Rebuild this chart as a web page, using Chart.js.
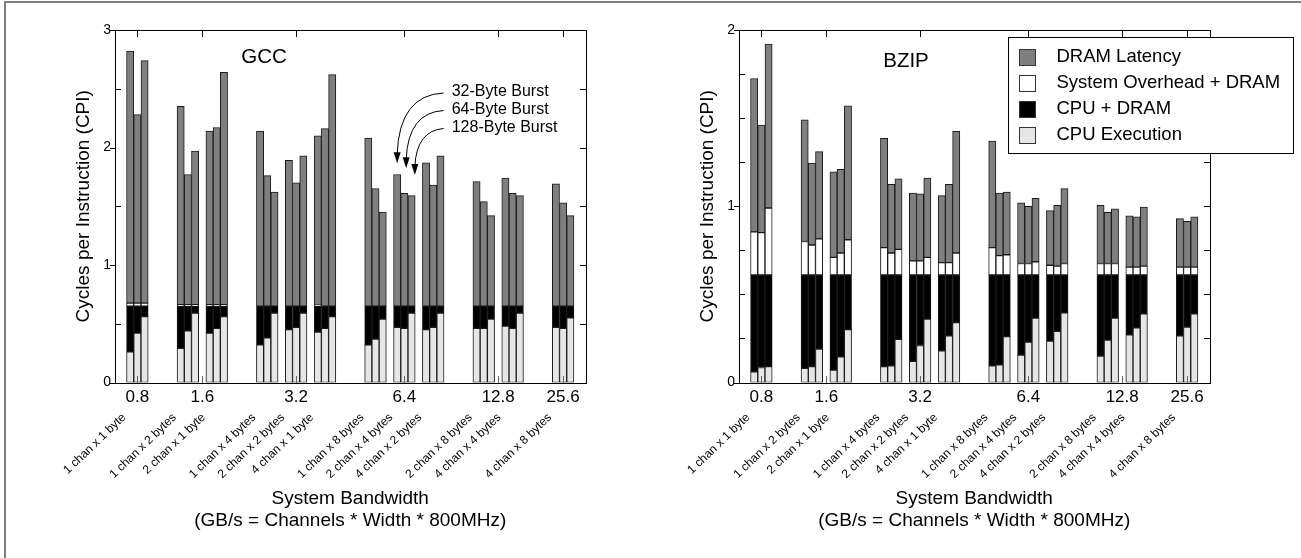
<!DOCTYPE html>
<html>
<head>
<meta charset="utf-8">
<title>CPI vs System Bandwidth</title>
<script src="https://cdn.jsdelivr.net/npm/chart.js@4.4.0/dist/chart.umd.min.js"></script>
<style>
  html, body { margin: 0; padding: 0; background: #fff; }
  body { width: 1301px; height: 558px; position: relative; overflow: hidden; }
  .frame { position: absolute; left: 4px; top: 1px; right: 0; bottom: 0;
           border-left: 2px solid #7f7f7f; border-top: 2px solid #7f7f7f; }
  canvas { position: absolute; top: 0; }
  #gcc { left: 0; }
  #bzip { left: 624px; }
</style>
</head>
<body>
<div class="frame"></div>
<canvas id="gcc" width="624" height="558"></canvas>
<canvas id="bzip" width="677" height="558"></canvas>
<script>
// ---- data ----
const configs = [
  '1 chan x 1 byte', '1 chan x 2 bytes', '2 chan x 1 byte',
  '1 chan x 4 bytes', '2 chan x 2 bytes', '4 chan x 1 byte',
  '1 chan x 8 bytes', '2 chan x 4 bytes', '4 chan x 2 bytes',
  '2 chan x 8 bytes', '4 chan x 4 bytes', '4 chan x 8 bytes'
];
const bandwidthLabels = ['0.8', '1.6', '3.2', '6.4', '12.8', '25.6'];
const configBandwidth = [0, 1, 1, 2, 2, 2, 3, 3, 3, 4, 4, 5];
const burstLabels = ['32-Byte Burst', '64-Byte Burst', '128-Byte Burst'];
const seriesNames = ['CPU Execution', 'CPU + DRAM', 'System Overhead + DRAM', 'DRAM Latency'];

// one row per config, one value per burst size (32, 64, 128)
const gccCpuExec = [
  [0.26, 0.42, 0.56], [0.29, 0.44, 0.59], [0.42, 0.46, 0.56],
  [0.32, 0.38, 0.59], [0.45, 0.47, 0.59], [0.43, 0.46, 0.56],
  [0.32, 0.37, 0.54], [0.47, 0.46, 0.59], [0.45, 0.47, 0.59],
  [0.46, 0.46, 0.54], [0.48, 0.46, 0.59], [0.47, 0.46, 0.55]
];
const gccCpuDram = [
  [0.39, 0.23, 0.09], [0.36, 0.21, 0.06], [0.23, 0.19, 0.09],
  [0.33, 0.27, 0.06], [0.20, 0.18, 0.06], [0.22, 0.19, 0.09],
  [0.33, 0.28, 0.11], [0.18, 0.19, 0.06], [0.20, 0.18, 0.06],
  [0.19, 0.19, 0.11], [0.17, 0.19, 0.06], [0.18, 0.19, 0.10]
];
const gccOverhead = [
  [0.025, 0.025, 0.025], [0.012, 0.012, 0.012], [0.012, 0.012, 0.012],
  [0, 0, 0], [0, 0, 0], [0.008, 0, 0],
  [0, 0, 0], [0, 0, 0], [0, 0, 0],
  [0, 0, 0], [0, 0, 0], [0, 0, 0]
];
const gccLatency = [
  [2.145, 1.605, 2.065], [1.688, 1.108, 1.308], [1.478, 1.508, 1.978],
  [1.49, 1.11, 0.97], [1.24, 1.05, 1.28], [1.442, 1.51, 1.97],
  [1.43, 1.00, 0.80], [1.12, 0.96, 0.94], [1.22, 1.03, 1.28],
  [1.06, 0.89, 0.77], [1.09, 0.96, 0.94], [1.04, 0.88, 0.77]
];

const bzipCpuExec = [
  [0.06, 0.085, 0.09], [0.08, 0.09, 0.19], [0.07, 0.145, 0.30],
  [0.09, 0.095, 0.245], [0.12, 0.21, 0.36], [0.18, 0.265, 0.34],
  [0.095, 0.10, 0.26], [0.155, 0.23, 0.365], [0.235, 0.29, 0.395],
  [0.15, 0.24, 0.365], [0.27, 0.31, 0.39], [0.265, 0.315, 0.39]
];
const bzipCpuDram = [
  [0.55, 0.525, 0.52], [0.53, 0.52, 0.42], [0.54, 0.465, 0.31],
  [0.52, 0.515, 0.365], [0.49, 0.40, 0.25], [0.43, 0.345, 0.27],
  [0.515, 0.51, 0.35], [0.455, 0.38, 0.245], [0.375, 0.32, 0.215],
  [0.46, 0.37, 0.245], [0.34, 0.30, 0.22], [0.345, 0.295, 0.22]
];
const bzipOverhead = [
  [0.245, 0.24, 0.38], [0.19, 0.17, 0.205], [0.10, 0.125, 0.20],
  [0.155, 0.125, 0.145], [0.08, 0.08, 0.10], [0.07, 0.07, 0.125],
  [0.155, 0.11, 0.115], [0.065, 0.065, 0.075], [0.055, 0.05, 0.065],
  [0.065, 0.065, 0.065], [0.045, 0.045, 0.05], [0.045, 0.045, 0.045]
];
const bzipLatency = [
  [0.87, 0.61, 0.93], [0.69, 0.465, 0.495], [0.485, 0.475, 0.76],
  [0.62, 0.39, 0.40], [0.385, 0.38, 0.45], [0.38, 0.445, 0.69],
  [0.605, 0.355, 0.355], [0.345, 0.325, 0.36], [0.31, 0.345, 0.425],
  [0.33, 0.29, 0.31], [0.29, 0.285, 0.335], [0.275, 0.26, 0.285]
];

// ---- layout / style ----
const FONT = '"Liberation Sans", Arial, Helvetica, sans-serif';
const segColors = ['#e6e6e6', '#000000', '#ffffff', '#7f7f7f'];
const AREA = { left: 115, right: 585.5, top: 30, bottom: 382.5 };

// bar slot of each config: 3 bars, one empty slot between configs, 4 between bandwidth groups
const slotStart = [];
(function () {
  let pos = 0;
  configBandwidth.forEach((g, i) => {
    if (i > 0) pos += (g === configBandwidth[i - 1]) ? 1 : 4;
    slotStart.push(pos);
    pos += 3;
  });
})();
const configCenter = slotStart.map(s => s + 1.5);
const groupCenter = bandwidthLabels.map((_, g) => {
  const idx = configBandwidth.map((b, i) => b === g ? i : -1).filter(i => i >= 0);
  return (slotStart[idx[0]] + slotStart[idx[idx.length - 1]] + 3) / 2;
});

function toPoints(rows) {
  const pts = [];
  rows.forEach((row, i) => row.forEach((v, j) => pts.push({ x: slotStart[i] + j + 0.5, y: v })));
  return pts;
}

// 1px rules as filled rects
function hRule(ctx, x1, x2, y) { ctx.fillRect(Math.min(x1, x2), Math.round(y), Math.abs(x2 - x1) + 1, 1); }
function vRule(ctx, x, y1, y2) { ctx.fillRect(Math.round(x), Math.min(y1, y2), 1, Math.abs(y2 - y1) + 1); }

function decorPlugin(o) {
  return {
    id: 'decor',
    afterDraw(chart) {
      const ctx = chart.ctx, a = chart.chartArea, xs = chart.scales.x, ys = chart.scales.y;
      const L = Math.round(a.left), R = Math.round(a.right);
      const T = Math.round(a.top), B = Math.round(a.bottom);
      ctx.save();

      // bottom ticks at bandwidth positions
      ctx.fillStyle = '#666666';
      groupCenter.forEach(c => vRule(ctx, xs.getPixelForValue(c), B - 7, B));
      // plot frame and ticks
      ctx.fillStyle = '#000000';
      hRule(ctx, L, R, T);
      hRule(ctx, L, R, B);
      vRule(ctx, L, T, B);
      vRule(ctx, R, T, B);
      groupCenter.forEach(c => vRule(ctx, xs.getPixelForValue(c), T, T + 6));
      for (let k = 0; k * o.yStep <= o.yMax + 1e-9; k++) {
        const v = k * o.yStep;
        const py = ys.getPixelForValue(v);
        const major = Math.abs(v - Math.round(v)) < 1e-9;
        if (major) hRule(ctx, L - 5, L, py);
        else hRule(ctx, L, L + 5, py);
        hRule(ctx, R - 6, R, py);
      }

      // config names under the bandwidth labels
      ctx.font = '12px ' + FONT;
      ctx.textAlign = 'right';
      ctx.textBaseline = 'alphabetic';
      configs.forEach((name, i) => {
        const px = xs.getPixelForValue(configCenter[i]);
        ctx.save();
        ctx.translate(px - 11, 418);
        ctx.rotate(-44 * Math.PI / 180);
        ctx.fillText(name, 0, 0);
        ctx.restore();
      });

      // axis titles
      ctx.textAlign = 'center';
      ctx.textBaseline = 'middle';
      ctx.font = '19px ' + FONT;
      const cx = (a.left + a.right) / 2;
      ctx.fillText('System Bandwidth', cx, 499);
      ctx.fillText('(GB/s = Channels * Width * 800MHz)', cx, 521);
      ctx.save();
      ctx.translate(84, (a.top + a.bottom) / 2);
      ctx.rotate(-Math.PI / 2);
      ctx.font = '19px ' + FONT;
      ctx.fillText('Cycles per Instruction (CPI)', 0, 0);
      ctx.restore();

      // benchmark name
      ctx.font = '20.5px ' + FONT;
      ctx.fillText(o.title, o.titleX, o.titleY);

      if (o.arrows) drawArrows(ctx, xs, ys, o.arrows);
      if (o.legend) drawLegend(ctx, o.legend);
      ctx.restore();
    }
  };
}

function drawArrows(ctx, xs, ys, ar) {
  ctx.font = '16px ' + FONT;
  ctx.textAlign = 'left';
  ctx.textBaseline = 'middle';
  ctx.fillStyle = '#000';
  ctx.strokeStyle = '#000';
  ctx.lineWidth = 1;
  burstLabels.forEach((txt, i) => {
    const ty = ar.textY[i];
    ctx.fillText(txt, ar.textX, ty);
    const sx = ar.textX - 8, sy = ty + 1;
    const tx = xs.getPixelForValue(ar.tipX[i]), tipY = ys.getPixelForValue(ar.tipY[i]);
    ctx.beginPath();
    ctx.moveTo(sx, sy);
    ctx.quadraticCurveTo(tx + 2, sy + 2, tx, tipY - 9);
    ctx.stroke();
    ctx.beginPath();
    ctx.moveTo(tx - 3.5, tipY - 11);
    ctx.lineTo(tx + 3.5, tipY - 11);
    ctx.lineTo(tx, tipY);
    ctx.closePath();
    ctx.fill();
  });
}

function drawLegend(ctx, lg) {
  ctx.fillStyle = '#fff';
  ctx.fillRect(lg.x, lg.y, lg.w, lg.h);
  ctx.fillStyle = '#000';
  hRule(ctx, lg.x, lg.x + lg.w, lg.y);
  hRule(ctx, lg.x, lg.x + lg.w, lg.y + lg.h);
  vRule(ctx, lg.x, lg.y, lg.y + lg.h);
  vRule(ctx, lg.x + lg.w, lg.y, lg.y + lg.h);
  ctx.font = '18.5px ' + FONT;
  ctx.textAlign = 'left';
  ctx.textBaseline = 'middle';
  // top to bottom follows the stacking order, top segment first
  [3, 2, 1, 0].forEach((s, r) => {
    const ry = Math.round(lg.y + 19.5 + r * 26.1);
    const sx = lg.x + 11;
    ctx.fillStyle = '#333';
    ctx.fillRect(sx, ry - 8, 17, 17);
    ctx.fillStyle = segColors[s];
    ctx.fillRect(sx + 1, ry - 7, 15, 15);
    ctx.fillStyle = '#000';
    ctx.fillText(seriesNames[s], lg.x + 48.5, ry);
  });
}

function makeChart(id, series, o) {
  const canvas = document.getElementById(id);
  const datasets = series.map((rows, s) => ({
    label: seriesNames[s],
    data: toPoints(rows),
    backgroundColor: segColors[s],
    borderColor: '#1a1a1a',
    borderWidth: 1,
    borderSkipped: false,
    barPercentage: 1,
    categoryPercentage: 1
  }));
  return new Chart(canvas, {
    type: 'bar',
    data: { datasets },
    options: {
      responsive: false,
      animation: false,
      layout: { padding: { left: 0, top: AREA.top, right: canvas.width - AREA.right, bottom: 0 } },
      plugins: { legend: { display: false }, tooltip: { enabled: false } },
      scales: {
        x: {
          type: 'linear', stacked: true, min: -1.6, max: 63.6, offset: false,
          grid: { display: false, drawTicks: false }, border: { display: false },
          afterBuildTicks: sc => { sc.ticks = groupCenter.map(v => ({ value: v })); },
          afterFit: sc => { sc.height = canvas.height - AREA.bottom; },
          ticks: {
            autoSkip: false, maxRotation: 0, padding: 5, color: '#000',
            font: { family: FONT, size: 17 },
            callback: (v, i) => bandwidthLabels[i]
          }
        },
        y: {
          stacked: true, min: 0, max: o.yMax,
          grid: { display: false, drawTicks: false }, border: { display: false },
          afterFit: sc => { sc.width = AREA.left; },
          ticks: {
            stepSize: o.yStep, padding: 4, color: '#000',
            font: { family: FONT, size: 14 },
            callback: v => (Math.abs(v - Math.round(v)) < 1e-9 ? String(Math.round(v)) : '')
          }
        }
      }
    },
    plugins: [decorPlugin(o)]
  });
}

makeChart('gcc', [gccCpuExec, gccCpuDram, gccOverhead, gccLatency], {
  yMax: 3, yStep: 0.5, title: 'GCC', titleX: 264, titleY: 57.5,
  arrows: { textX: 451.7, textY: [92, 109.5, 127.5], tipX: [37.5, 38.75, 39.95], tipY: [1.865, 1.823, 1.766] }
});
makeChart('bzip', [bzipCpuExec, bzipCpuDram, bzipOverhead, bzipLatency], {
  yMax: 2, yStep: 0.25, title: 'BZIP', titleX: 282, titleY: 61.5,
  legend: { x: 384, y: 37, w: 285, h: 116 }
});
</script>
</body>
</html>
